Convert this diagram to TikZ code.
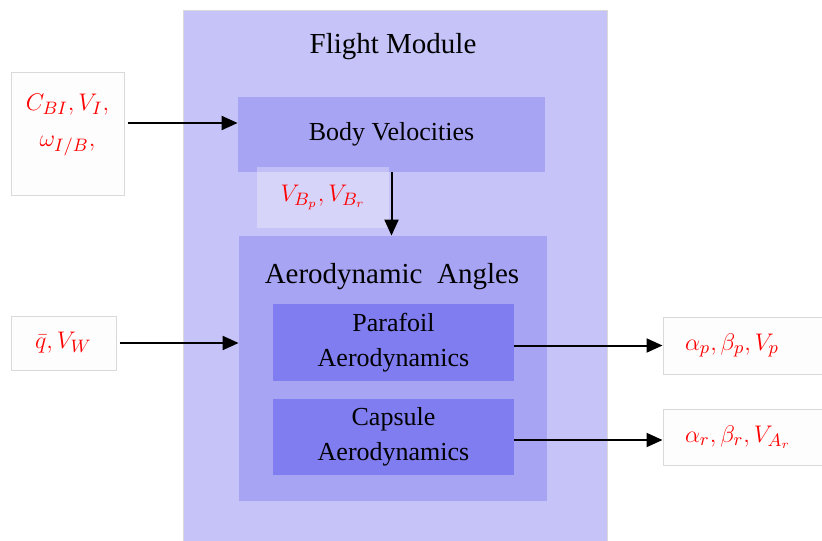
\documentclass[tikz,border=0pt]{standalone}
\usepackage{fontspec}
\setmainfont{Liberation Serif}
\usetikzlibrary{arrows.meta}
\definecolor{modfill}{HTML}{C5C3F7}
\definecolor{subfill}{HTML}{A8A4F4}
\definecolor{blkfill}{HTML}{807DF0}
\definecolor{iofill}{HTML}{FDFDFD}
\definecolor{ioline}{HTML}{D9D9D9}

\begin{document}
\begin{tikzpicture}[
  x=0.5pt, y=-0.5pt,
  block/.style={fill=#1, inner sep=0pt, align=center, font=\fontsize{13}{17.5}\selectfont},
  io/.style={fill=iofill, draw=ioline, line width=0.5pt, text=red, inner sep=0pt,
             font=\fontsize{13}{18}\selectfont},
  arrow/.style={-{Triangle[length=8pt,width=7pt]}, line width=1pt}
]
  \useasboundingbox (0,0) rectangle (822,540);
  \clip (0,0) rectangle (822,540);
  % module and its blocks
  \node[block=modfill, draw=ioline, line width=0.5pt, minimum width=212pt, minimum height=267pt] (fm) at (395,278) {};
  \node[font=\fontsize{14.5}{17}\selectfont] (fmt) at (393,47) {Flight Module};
  \node[block=subfill, minimum width=153.5pt, minimum height=37.5pt] (bv) at (391.5,134.5) {Body Velocities};
  \node[fill=white, fill opacity=0.3, text opacity=1, text=red, inner sep=0pt,
        minimum width=66pt, minimum height=30.5pt, font=\fontsize{13}{18}\selectfont] (vb) at (323,197) {$V_{B_p},V_{B_r}$};
  \node[block=subfill, minimum width=154pt, minimum height=132.5pt] (aa) at (393,368.5) {};
  \node[font=\fontsize{14.5}{17}\selectfont] (aat) at (392,277) {Aerodynamic\ \ Angles};
  \node[block=blkfill, minimum width=120.5pt, minimum height=38.5pt] (pa) at (393.5,342.5) {Parafoil\\Aerodynamics};
  \node[block=blkfill, minimum width=120.5pt, minimum height=38pt] (ca) at (393.5,437) {Capsule\\Aerodynamics};
  % inputs and outputs
  \node[io, minimum width=56.5pt, minimum height=61pt,
        label={[anchor=north, text=red, align=center, inner sep=0pt, yshift=-10.5pt,
                font=\fontsize{13}{18}\selectfont]north:{$C_{BI},V_I,$\\$\omega_{I/B},$}}] (in1) at (67.5,134) {};
  \node[io, minimum width=52.5pt, minimum height=27pt] (in2) at (63.5,343) {$\bar q,V_W$};
  \node[io, text width=64pt, align=left, inner xsep=11pt, minimum height=28.5pt] (o1) at (749,345.5) {$\alpha_p,\beta_p,V_p$};
  \node[io, text width=64pt, align=left, inner xsep=11pt, minimum height=28pt] (o2) at (749,437) {$\alpha_r,\beta_r,V_{A_r}$};
  % connectors
  \draw[arrow] ([xshift=1.5pt,yshift=5.5pt]in1.east) -- ([yshift=5.5pt]in1.east -| bv.west);
  \draw[arrow] ([xshift=1.5pt]in2.east) -- (in2.east -| aa.west);
  \draw[arrow] (bv.south) -- (bv.south |- aa.north);
  \draw[arrow] (o1.west -| pa.east) -- (o1.west);
  \draw[arrow] ([yshift=-1.5pt]o2.west -| ca.east) -- ([yshift=-1.5pt]o2.west);
\end{tikzpicture}
\end{document}
